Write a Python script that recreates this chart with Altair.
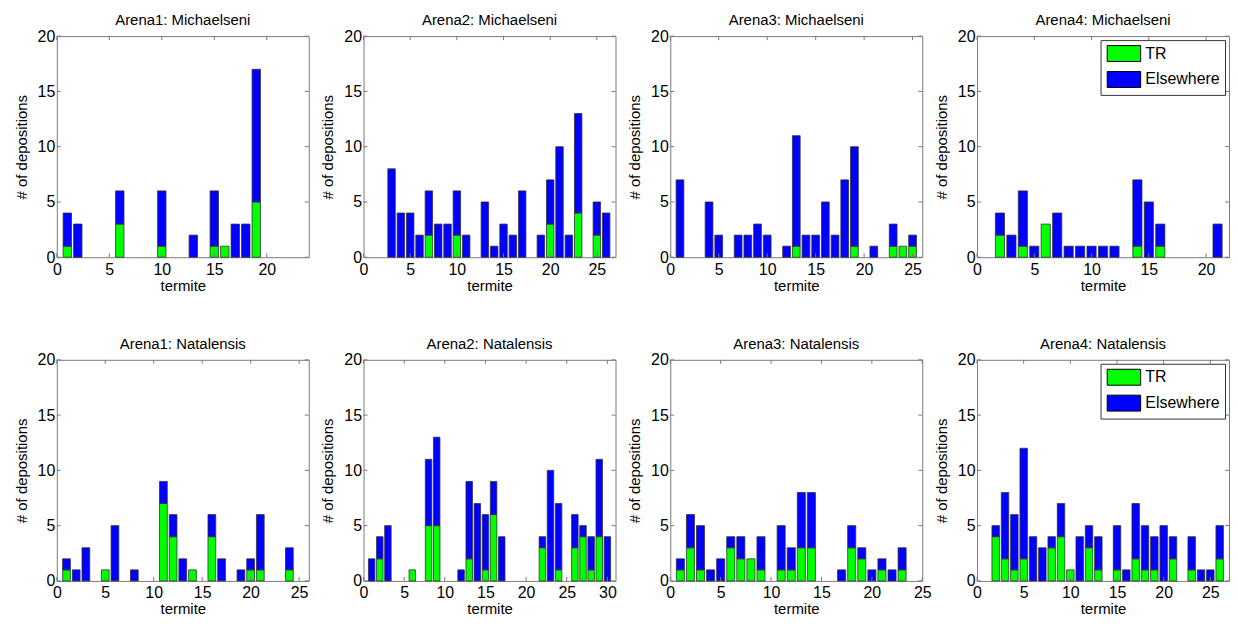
import altair as alt
import pandas as pd

# ---------------- data ----------------
titles = ["Arena1: Michaelseni", "Arena2: Michaelseni", "Arena3: Michaelseni", "Arena4: Michaelseni",
          "Arena1: Natalensis", "Arena2: Natalensis", "Arena3: Natalensis", "Arena4: Natalensis"]

termites_1 = [1, 2, 6, 10, 13, 15, 16, 17, 18, 19]
totals_1 = [4, 3, 6, 6, 2, 6, 1, 3, 3, 17]
tr_1 = [1, 0, 3, 1, 0, 1, 1, 0, 0, 5]

termites_2 = [3, 4, 5, 6, 7, 8, 9, 10, 11, 13, 14, 15, 16, 17, 19, 20, 21, 22, 23, 25, 26]
totals_2 = [8, 4, 4, 2, 6, 3, 3, 6, 2, 5, 1, 3, 2, 6, 2, 7, 10, 2, 13, 5, 4]
tr_2 = [0, 0, 0, 0, 2, 0, 0, 2, 0, 0, 0, 0, 0, 0, 0, 3, 0, 0, 4, 2, 0]

termites_3 = [1, 4, 5, 7, 8, 9, 10, 12, 13, 14, 15, 16, 17, 18, 19, 21, 23, 24, 25]
totals_3 = [7, 5, 2, 2, 2, 3, 2, 1, 11, 2, 2, 5, 2, 7, 10, 1, 3, 1, 2]
tr_3 = [0, 0, 0, 0, 0, 0, 0, 0, 1, 0, 0, 0, 0, 0, 1, 0, 1, 1, 1]

termites_4 = [2, 3, 4, 5, 6, 7, 8, 9, 10, 11, 12, 14, 15, 16, 21]
totals_4 = [4, 2, 6, 1, 3, 4, 1, 1, 1, 1, 1, 7, 5, 3, 3]
tr_4 = [2, 0, 1, 0, 3, 0, 0, 0, 0, 0, 0, 1, 0, 1, 0]

termites_5 = [1, 2, 3, 5, 6, 8, 11, 12, 13, 14, 16, 17, 19, 20, 21, 24]
totals_5 = [2, 1, 3, 1, 5, 1, 9, 6, 2, 1, 6, 2, 1, 2, 6, 3]
tr_5 = [1, 0, 0, 1, 0, 0, 7, 4, 0, 1, 4, 0, 0, 1, 1, 1]

termites_6 = [1, 2, 3, 6, 8, 9, 12, 13, 14, 15, 16, 17, 22, 23, 24, 26, 27, 28, 29, 30]
totals_6 = [2, 4, 5, 1, 11, 13, 1, 9, 7, 6, 9, 4, 4, 10, 7, 6, 5, 4, 11, 4]
tr_6 = [0, 2, 0, 1, 5, 5, 0, 2, 0, 1, 6, 0, 3, 0, 1, 3, 4, 1, 4, 0]

termites_7 = [1, 2, 3, 4, 5, 6, 7, 8, 9, 11, 12, 13, 14, 17, 18, 19, 20, 21, 22, 23]
totals_7 = [2, 6, 5, 1, 2, 4, 4, 2, 4, 5, 3, 8, 8, 1, 5, 3, 1, 2, 1, 3]
tr_7 = [1, 3, 1, 0, 0, 3, 2, 2, 1, 1, 1, 3, 3, 0, 3, 2, 0, 1, 0, 1]

termites_8 = [2, 3, 4, 5, 6, 7, 8, 9, 10, 11, 12, 13, 15, 16, 17, 18, 19, 20, 21, 23, 24, 25, 26]
totals_8 = [5, 8, 6, 12, 4, 3, 4, 7, 1, 4, 5, 4, 5, 1, 7, 5, 4, 5, 4, 4, 1, 1, 5]
tr_8 = [4, 2, 1, 2, 0, 0, 3, 4, 1, 0, 3, 1, 1, 0, 2, 1, 1, 0, 2, 1, 0, 0, 2]

termites = [termites_1, termites_2, termites_3, termites_4, termites_5, termites_6, termites_7, termites_8]
totals = [totals_1, totals_2, totals_3, totals_4, totals_5, totals_6, totals_7, totals_8]
tr_counts = [tr_1, tr_2, tr_3, tr_4, tr_5, tr_6, tr_7, tr_8]

x_max = [24, 27, 26, 22, 26, 31, 25, 27]
x_ticks = [[0, 5, 10, 15, 20], [0, 5, 10, 15, 20, 25], [0, 5, 10, 15, 20, 25], [0, 5, 10, 15, 20],
           [0, 5, 10, 15, 20, 25], [0, 5, 10, 15, 20, 25, 30], [0, 5, 10, 15, 20, 25], [0, 5, 10, 15, 20, 25]]
y_ticks = [0, 5, 10, 15, 20]
categories = ["TR", "Elsewhere"]

# ---------------- style ----------------
W, H = 253, 222
FONT = "Liberation Sans"
FRAME = "#7a7a7a"
GREEN = "#00FF00"
BLUE = "#0000FF"
TL = 4  # tick length in px
XTITLE = "termite"
YTITLE = "# of depositions"


def panel(i):
    rows = []
    for t, tot, tr in zip(termites[i], totals[i], tr_counts[i]):
        if tr > 0:
            rows.append(dict(termite=t, type="TR", lo=0, hi=tr))
        if tot - tr > 0:
            rows.append(dict(termite=t, type="Elsewhere", lo=tr, hi=tot))
    df = pd.DataFrame(rows)
    xs = alt.Scale(domain=[0, x_max[i]], nice=False, zero=False)
    ys = alt.Scale(domain=[0, 20], nice=False)
    xax = alt.Axis(values=x_ticks[i], labelPadding=4, titlePadding=1)
    yax = alt.Axis(values=y_ticks, labelPadding=2, titlePadding=8)
    if i in (3, 7):
        legend = alt.Legend(title=None, orient="top-right", offset=4, padding=5,
                            strokeColor="#333333", fillColor="white",
                            symbolType="M-2.1,-1H2.1V1H-2.1Z", symbolSize=256,
                            symbolOffset=10, labelOffset=13,
                            symbolStrokeColor="black", symbolStrokeWidth=1, symbolOpacity=1,
                            labelFont=FONT, labelFontSize=16, labelColor="black",
                            rowPadding=5)
    else:
        legend = None
    bars = alt.Chart(df).transform_calculate(
        x0="datum.termite - 0.4", x1="datum.termite + 0.4"
    ).mark_rect(stroke="#333333", strokeWidth=0.8).encode(
        x=alt.X("x0:Q", scale=xs, axis=xax, title=XTITLE),
        x2="x1:Q",
        y=alt.Y("lo:Q", scale=ys, axis=yax, title=YTITLE),
        y2="hi:Q",
        color=alt.Color("type:N", scale=alt.Scale(domain=categories, range=[GREEN, BLUE]), legend=legend),
    )
    ydf = pd.DataFrame({"v": y_ticks})
    xdf = pd.DataFrame({"v": x_ticks[i]})
    yl = alt.Chart(ydf).mark_rule(color=FRAME).encode(
        y=alt.Y("v:Q", scale=ys, axis=yax, title=YTITLE), x=alt.value(0), x2=alt.value(TL))
    yr = alt.Chart(ydf).mark_rule(color=FRAME).encode(
        y=alt.Y("v:Q", scale=ys, axis=yax, title=YTITLE), x=alt.value(W - TL), x2=alt.value(W))
    xb = alt.Chart(xdf).mark_rule(color=FRAME).encode(
        x=alt.X("v:Q", scale=xs, axis=xax, title=XTITLE), y=alt.value(H), y2=alt.value(H - TL))
    xt = alt.Chart(xdf).mark_rule(color=FRAME).encode(
        x=alt.X("v:Q", scale=xs, axis=xax, title=XTITLE), y=alt.value(0), y2=alt.value(TL))
    return alt.layer(bars, yl, yr, xb, xt).properties(
        width=W, height=H,
        title=alt.TitleParams(titles[i], fontSize=15, fontWeight="normal", font=FONT,
                              color="black", offset=0, anchor="middle"),
    )


chart = alt.concat(*[panel(i) for i in range(8)], columns=4,
                   spacing={"row": 103, "column": 55}, bounds="flush").resolve_scale(
    color="independent", x="independent", y="independent"
).properties(
    background="white", padding={"left": 5, "top": 3, "right": 0, "bottom": 2}
).configure_axis(
    labelFont=FONT, titleFont=FONT, labelFontSize=16, titleFontSize=15,
    titleFontWeight="normal", labelColor="black", titleColor="black",
    domain=False, ticks=False, grid=False, labelFlush=False,
).configure_view(stroke=FRAME, strokeWidth=1)

chart.save("out.html", embed_options={"renderer": "svg", "actions": False})
